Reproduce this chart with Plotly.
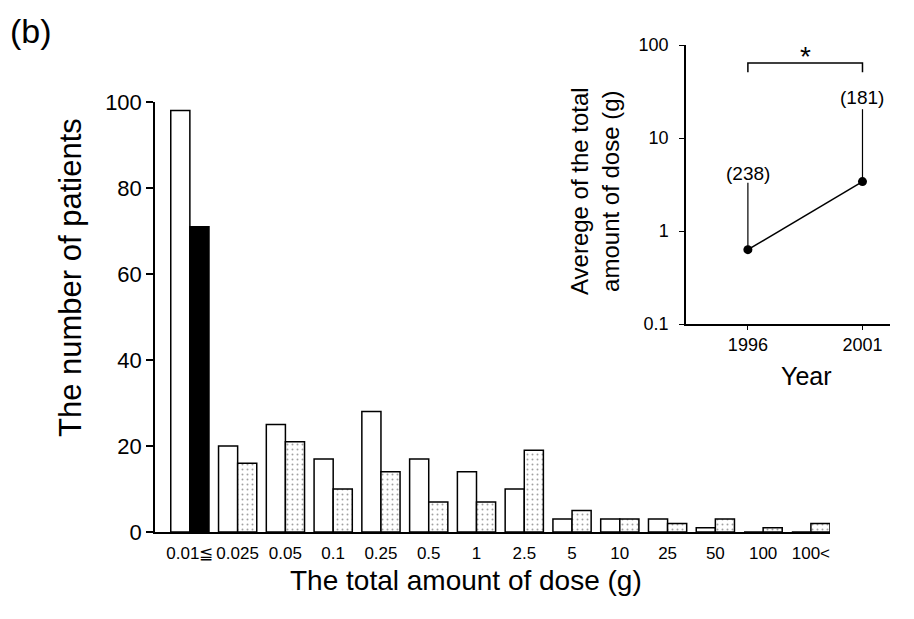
import math
import plotly.graph_objects as go

# ---------------- data ----------------
dose_labels = ["0.01≦", "0.025", "0.05", "0.1", "0.25", "0.5", "1", "2.5",
               "5", "10", "25", "50", "100", "100<"]
patients_1996 = [98, 20, 25, 17, 28, 17, 14, 10, 3, 3, 3, 1, 0, 0]
patients_2001 = [71, 16, 21, 10, 14, 7, 7, 19, 5, 3, 2, 3, 1, 2]

years = [1996, 2001]
avg_dose = [0.63, 3.4]
avg_dose_err_plus = [2.67, 17.0]
n_patients = ["(238)", "(181)"]
n_label_y = [4.2, 27.0]

y_ticks = [0, 20, 40, 60, 80, 100]
inset_y_ticks = [0.1, 1, 10, 100]
inset_y_ticklabels = ["0.1", "1", "10", "100"]

bracket_x = [1996, 1996, 2001, 2001]
bracket_y = [51, 64, 64, 51]

FONT = "Liberation Sans, Arial, Helvetica, sans-serif"
W, H = 914, 619

fig = go.Figure()

colors_2001 = ["black"] + ["white"] * (len(dose_labels) - 1)
shapes_2001 = [""] + ["."] * (len(dose_labels) - 1)

fig.add_trace(go.Bar(
    x=dose_labels, y=patients_1996, name="1996",
    marker=dict(color="white", line=dict(color="black", width=1.5)),
    xaxis="x", yaxis="y", showlegend=False,
))
fig.add_trace(go.Bar(
    x=dose_labels, y=patients_2001, name="2001",
    marker=dict(color=colors_2001, line=dict(color="black", width=1.5),
                pattern=dict(shape=shapes_2001, fgcolor="#666666",
                             size=5, solidity=0.12, fillmode="overlay")),
    xaxis="x", yaxis="y", showlegend=False,
))

# inset
fig.add_trace(go.Scatter(
    x=years, y=avg_dose, mode="lines+markers",
    line=dict(color="black", width=1.5),
    marker=dict(color="black", size=9),
    error_y=dict(type="data", array=avg_dose_err_plus,
                 arrayminus=[0, 0], symmetric=False,
                 color="black", thickness=1.2, width=0),
    xaxis="x2", yaxis="y2", showlegend=False,
))
fig.add_trace(go.Scatter(
    x=bracket_x, y=bracket_y, mode="lines",
    line=dict(color="black", width=1.5),
    xaxis="x2", yaxis="y2", showlegend=False, hoverinfo="skip",
))

annotations = []
for yr, lab, ly in zip(years, n_patients, n_label_y):
    annotations.append(dict(x=yr, y=math.log10(ly), xref="x2", yref="y2",
                            text=lab, showarrow=False,
                            xanchor="center", yanchor="middle",
                            font=dict(family=FONT, size=19, color="black")))
annotations.append(dict(x=(years[0] + years[1]) / 2, y=math.log10(76),
                        xref="x2", yref="y2", text="*", showarrow=False,
                        xanchor="center", yanchor="middle",
                        font=dict(family=FONT, size=28, color="black")))


def paper_text(px, py, text, size, angle=0):
    return dict(x=px / W, y=1 - py / H, xref="paper", yref="paper",
                text=text, textangle=angle, showarrow=False,
                xanchor="center", yanchor="middle",
                font=dict(family=FONT, size=size, color="black"))


annotations += [
    paper_text(31, 31, "(b)", 34),
    paper_text(70, 278, "The number of patients", 31, -90),
    paper_text(466, 580, "The total amount of dose (g)", 28),
    paper_text(595, 191, "Averege of the total<br>amount of dose (g)", 24, -90),
    paper_text(806, 376, "Year", 25),
]

fig.update_layout(
    width=W, height=H,
    margin=dict(l=0, r=0, t=0, b=0, autoexpand=False),
    paper_bgcolor="white", plot_bgcolor="white",
    barmode="group", bargap=0.2, bargroupgap=0.0,
    font=dict(family=FONT, color="black"),
    xaxis=dict(
        domain=[155 / W, 830 / W], anchor="y", automargin=False,
        type="category", categoryorder="array", categoryarray=dose_labels,
        range=[-0.73, 13.4], showline=True, linecolor="black", linewidth=1.5,
        ticks="", showgrid=False, zeroline=False,
        tickfont=dict(family=FONT, size=17, color="black"),
        ticklabelstandoff=5,
    ),
    yaxis=dict(
        domain=[1 - 532 / H, 1 - 102 / H], anchor="x", automargin=False,
        range=[0, 100], tickvals=y_ticks,
        showline=True, linecolor="black", linewidth=1.5,
        ticks="outside", ticklen=7, tickwidth=1.5, tickcolor="black",
        showgrid=False, zeroline=False,
        tickfont=dict(family=FONT, size=22, color="black"),
    ),
    xaxis2=dict(
        domain=[686 / W, 890 / W], anchor="y2", automargin=False,
        range=[1993.3, 2002.2], tickvals=years,
        showline=True, linecolor="black", linewidth=1.5,
        ticks="outside", ticklen=4, tickwidth=1.2, tickcolor="black",
        showgrid=False, zeroline=False,
        tickfont=dict(family=FONT, size=18, color="black"),
    ),
    yaxis2=dict(
        domain=[1 - 324 / H, 1 - 45 / H], anchor="x2", automargin=False,
        type="log", range=[-1, 2],
        tickvals=inset_y_ticks, ticktext=inset_y_ticklabels,
        showline=True, linecolor="black", linewidth=1.5,
        ticks="outside", ticklen=5, tickwidth=1.2, tickcolor="black",
        showgrid=False, zeroline=False,
        tickfont=dict(family=FONT, size=18, color="black"),
        ticklabelstandoff=7,
    ),
    annotations=annotations,
)

fig.write_html("out.html")
